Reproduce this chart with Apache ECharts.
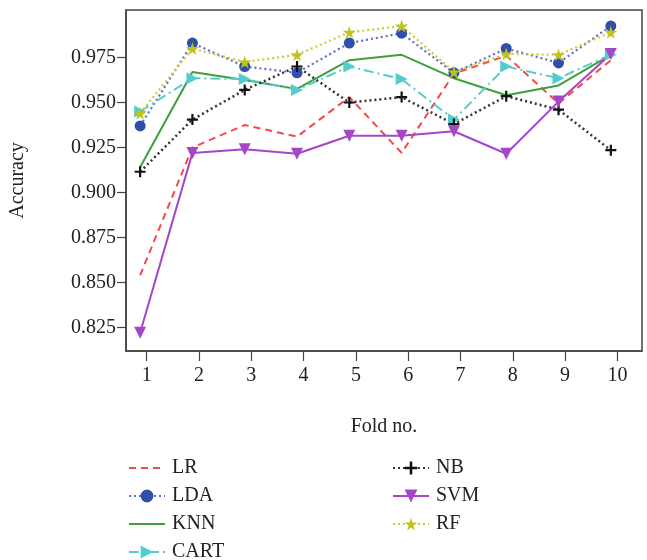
<!DOCTYPE html>
<html>
<head>
<meta charset="utf-8">
<script src="https://cdn.jsdelivr.net/npm/echarts@6/dist/echarts.min.js"></script>
<style>html,body{margin:0;padding:0;background:#fff;}#c{width:647px;height:560px;}</style>
</head>
<body>
<div id="c"></div>
<script>
var folds = [1, 2, 3, 4, 5, 6, 7, 8, 9, 10];
var yTicks = [0.825, 0.850, 0.875, 0.900, 0.925, 0.950, 0.975];
var LR   = [0.854, 0.925, 0.9375, 0.931, 0.953, 0.922, 0.966, 0.976, 0.9495, 0.9735];
var LDA  = [0.937, 0.983, 0.970, 0.9665, 0.983, 0.9885, 0.9665, 0.980, 0.972, 0.9925];
var KNN  = [0.914, 0.967, 0.9625, 0.9575, 0.9735, 0.9765, 0.9635, 0.954, 0.9595, 0.9765];
var CART = [0.945, 0.9635, 0.963, 0.957, 0.970, 0.963, 0.9405, 0.970, 0.9635, 0.9765];
var NB   = [0.9115, 0.9405, 0.957, 0.970, 0.950, 0.953, 0.938, 0.9535, 0.946, 0.9235];
var SVM  = [0.822, 0.922, 0.924, 0.9215, 0.9315, 0.9315, 0.934, 0.9215, 0.9505, 0.977];
var RF   = [0.944, 0.980, 0.9725, 0.9765, 0.989, 0.9925, 0.967, 0.977, 0.9765, 0.989];

var FONT = '"Liberation Serif", "DejaVu Serif", serif';
var plusPath = 'path://M4,0H6V4H10V6H6V10H4V6H0V4H4Z';
var starPath = 'path://M50,0L61,35L98,35L68,57L79,91L50,70L21,91L32,57L2,35L39,35Z';

function pairs(arr) { return arr.map(function (v, i) { return [folds[i], v]; }); }

function mk(name, data, color, lineType, symbol, size, rot, lw, mcolor) {
  return {
    name: name, type: 'line', xAxisIndex: 1, data: pairs(data),
    symbol: symbol, symbolSize: size, symbolRotate: rot || 0,
    showSymbol: symbol !== 'none',
    lineStyle: { color: color, type: lineType, width: lw || 2 },
    itemStyle: { color: mcolor || color, borderWidth: 0 },
    emphasis: { disabled: true },
    animation: false
  };
}

var series = [
  mk('LR', LR, '#f24a4a', [7, 5], 'none', 0, 0, 2),
  mk('LDA', LDA, '#5a6fd0', [2, 3], 'circle', 11, 0, 2.2, '#3050a8'),
  mk('KNN', KNN, '#3f9f3f', 'solid', 'none', 0, 0, 2),
  mk('CART', CART, '#55cccc', [10, 4, 2, 4], 'triangle', 12, -90, 2),
  mk('NB', NB, '#333333', [2, 3], plusPath, 11, 0, 2.5, '#111111'),
  mk('SVM', SVM, '#a545c8', 'solid', 'triangle', 12, 180, 2),
  mk('RF', RF, '#cccc33', [2, 3], starPath, 13, 0, 2.2, '#c2c21e')
];

var textStyle = { fontFamily: FONT, fontSize: 20, color: '#222', padding: [0, 0, 0, 2] };
var hidden = { opacity: 0 };

var option = {
  backgroundColor: '#fff',
  animation: false,
  grid: { left: 126, top: 10, width: 516, height: 341, show: true, borderColor: '#444', borderWidth: 1.5,
    backgroundColor: 'transparent', outerBoundsMode: 'none', containLabel: false },
  xAxis: [{
    type: 'value', min: 0.604, max: 10.47,
    name: 'Fold no.', nameLocation: 'middle', nameGap: 66,
    nameTextStyle: { fontFamily: FONT, fontSize: 20, color: '#222' },
    axisLine: { show: true, lineStyle: { color: '#444', width: 1.5 } },
    axisTick: { show: true, length: 10, inside: false, customValues: folds, lineStyle: { color: '#444', width: 1.2 } },
    axisLabel: { customValues: folds, fontFamily: FONT, fontSize: 20, color: '#222', margin: 15 },
    splitLine: { show: false }
  }, {
    type: 'value', min: 0.73, max: 10.596, show: false,
    splitLine: { show: false }
  }],
  yAxis: {
    type: 'value', min: 0.8119, max: 1.0014,
    name: 'Accuracy', nameLocation: 'middle', nameGap: 98, nameRotate: 90,
    nameTextStyle: { fontFamily: FONT, fontSize: 20, color: '#222' },
    axisLine: { show: true, lineStyle: { color: '#444', width: 1.5 } },
    axisTick: { show: true, length: 9, customValues: yTicks, lineStyle: { color: '#444', width: 1.2 } },
    axisLabel: { customValues: yTicks, fontFamily: FONT, fontSize: 20, color: '#222', margin: 10,
      formatter: function (v) { return v.toFixed(3); } },
    splitLine: { show: false }
  },
  legend: [{
    data: [{ name: 'LR', itemStyle: hidden }, 'LDA', { name: 'KNN', itemStyle: hidden }, 'CART'],
    orient: 'vertical', left: 123, top: 453, height: 110,
    itemWidth: 36, itemHeight: 16, itemGap: 8, textStyle: textStyle, selectedMode: false
  }, {
    data: ['NB', 'SVM', 'RF'], orient: 'vertical', left: 387, top: 453, height: 110,
    itemWidth: 36, itemHeight: 16, itemGap: 8, textStyle: textStyle, selectedMode: false
  }],
  series: series
};

var chart = echarts.init(document.getElementById('c'), null, { renderer: 'canvas' });
chart.setOption(option);
</script>
</body>
</html>
